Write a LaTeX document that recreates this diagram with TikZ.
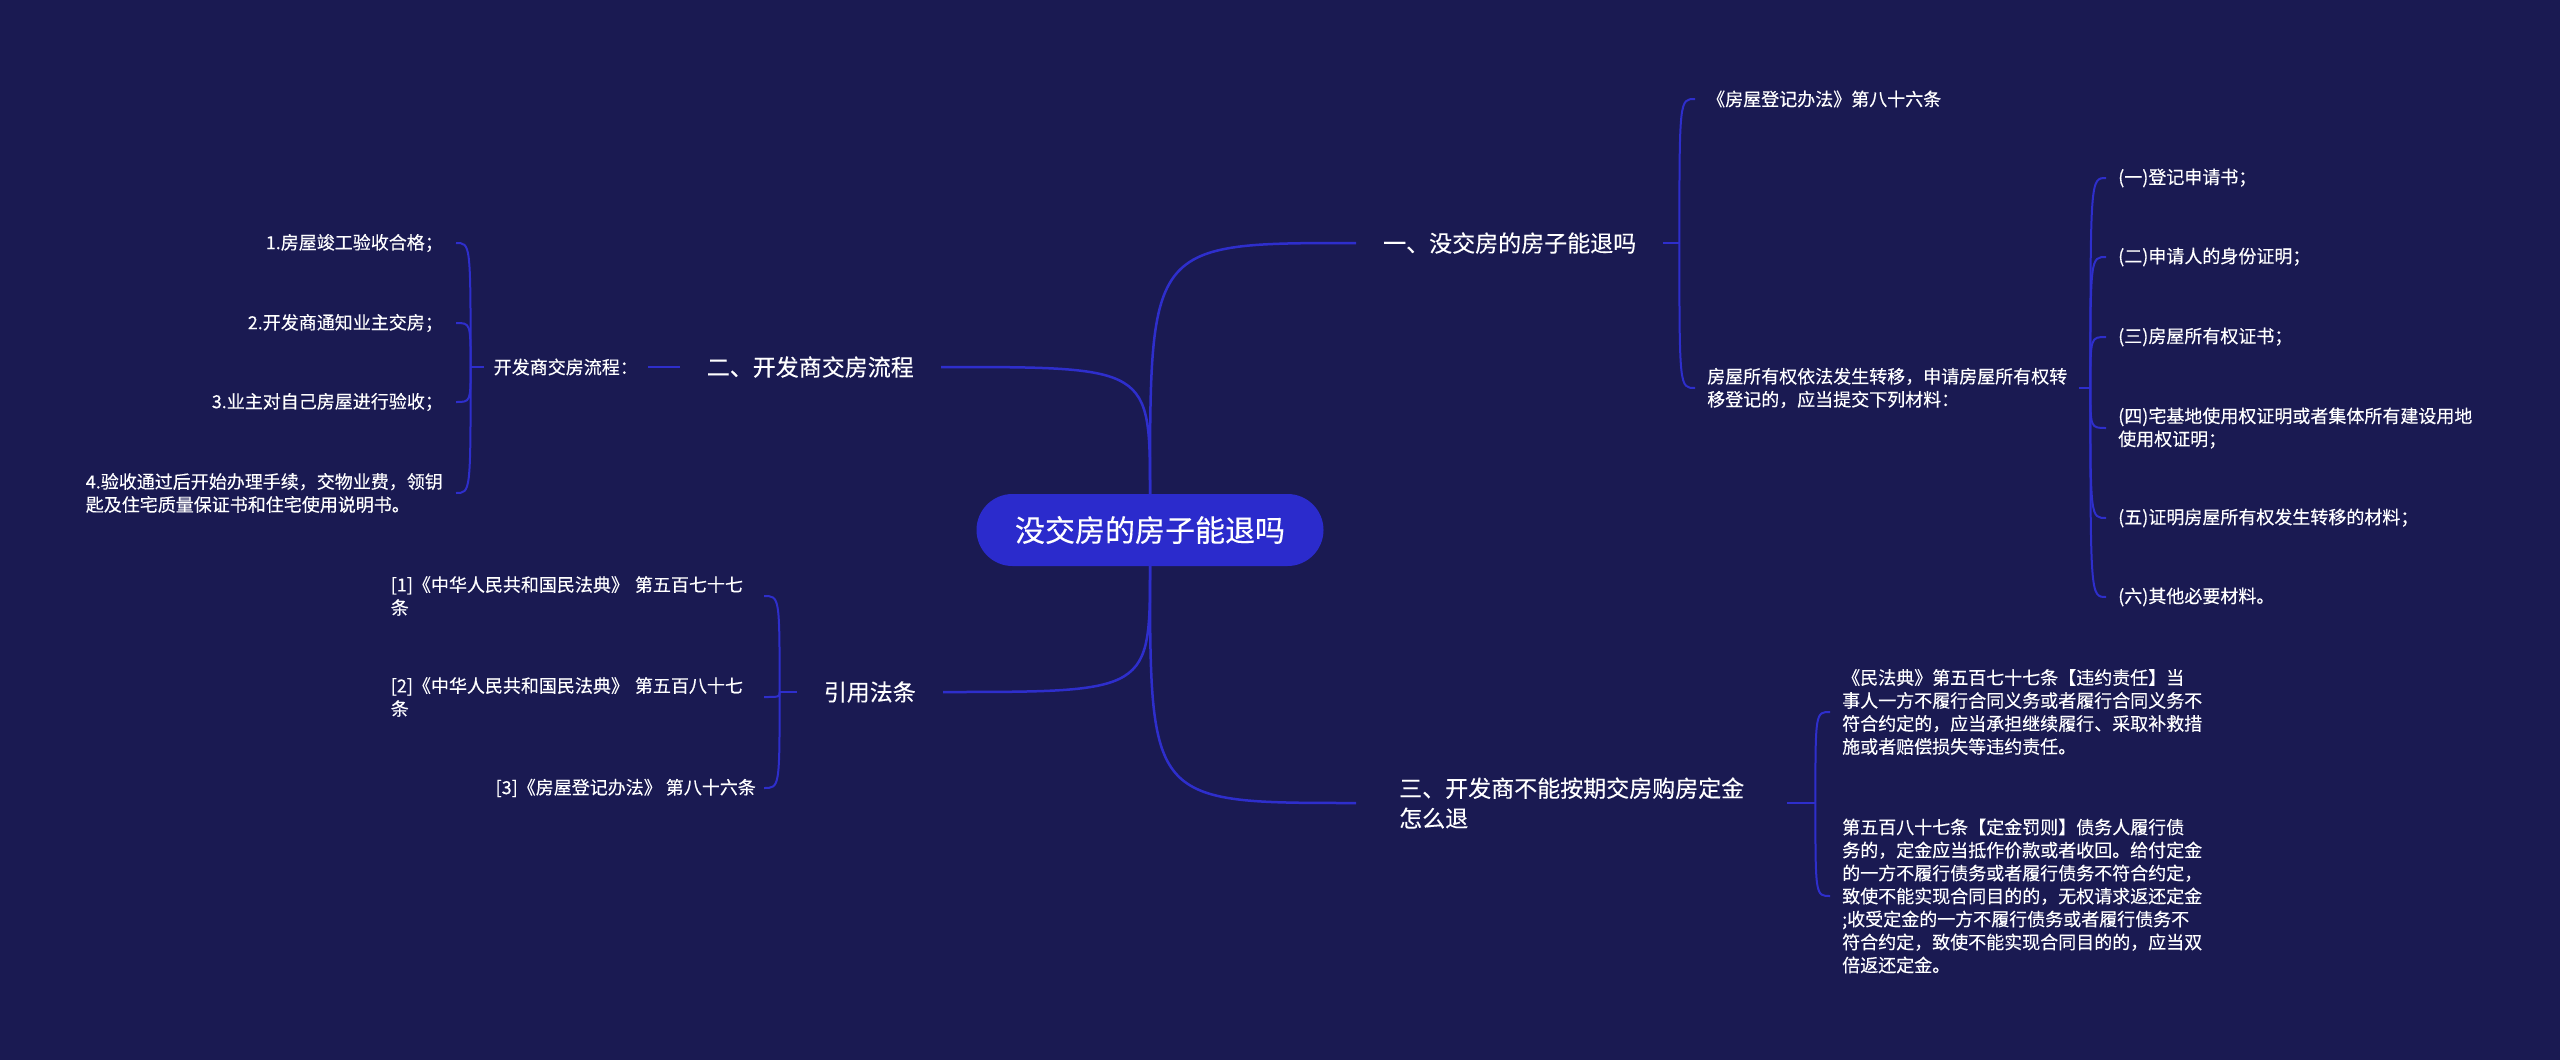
\documentclass[tikz,border=0pt]{standalone}
\usepackage{fontspec}
\setmainfont{Noto Sans CJK SC}[FakeBold=0.25]
\usetikzlibrary{backgrounds}
\definecolor{bg}{HTML}{1A1A52}
\definecolor{rootfill}{HTML}{2B2BCC}
\definecolor{linec}{HTML}{2E2ECC}
\begin{document}
\begin{tikzpicture}[x=1pt,y=-1pt,
  every node/.style={text=white, inner ysep=0pt},
  rootnode/.style={fill=rootfill, rounded corners=36pt, minimum width=347pt, minimum height=72pt, font=\fontsize{30}{36}\selectfont},
  topic/.style={inner xsep=27pt, font=\fontsize{23}{30}\selectfont, align=left},
  leaf/.style={inner xsep=12pt, font=\fontsize{18}{23}\selectfont, align=left},
  branch/.style={draw=linec, line width=2.5pt},
  brace/.style={draw=linec, line width=2pt},
  stub/.style={draw=linec, line width=2pt},
]
\useasboundingbox (0,0) rectangle (2560,1060);

% root and main topics
\node[rootnode] (R) at (1150,530) {没交房的房子能退吗};
\node[topic, anchor=west] (B1) at (1356,243) {一、没交房的房子能退吗};
\node[topic, anchor=east] (B2) at (941,367) {二、开发商交房流程};
\node[topic, anchor=west, inner xsep=43pt] (B3) at (1356,803) {三、开发商不能按期交房购房定金\\怎么退};
\node[topic, anchor=east] (B4) at (943,692) {引用法条};

% branch 1
\node[leaf, anchor=west] (C11) at (1695,99) {《房屋登记办法》第八十六条};
\node[leaf, anchor=west] (C12) at (1695,388) {房屋所有权依法发生转移，申请房屋所有权转\\移登记的，应当提交下列材料：};
\node[leaf, anchor=west] (C21) at (2106,178) {(一)登记申请书；};
\node[leaf, anchor=west] (C22) at (2106,257) {(二)申请人的身份证明；};
\node[leaf, anchor=west] (C23) at (2106,337) {(三)房屋所有权证书；};
\node[leaf, anchor=west] (C24) at (2106,428) {(四)宅基地使用权证明或者集体所有建设用地\\使用权证明；};
\node[leaf, anchor=west] (C25) at (2106,518) {(五)证明房屋所有权发生转移的材料；};
\node[leaf, anchor=west] (C26) at (2106,597) {(六)其他必要材料。};

% branch 3
\node[leaf, anchor=west] (C31) at (1830,712) {《民法典》第五百七十七条【违约责任】当\\事人一方不履行合同义务或者履行合同义务不\\符合约定的，应当承担继续履行、采取补救措\\施或者赔偿损失等违约责任。};
\node[leaf, anchor=west] (C32) at (1830,896) {第五百八十七条【定金罚则】债务人履行债\\务的，定金应当抵作价款或者收回。给付定金\\的一方不履行债务或者履行债务不符合约定，\\致使不能实现合同目的的，无权请求返还定金\\;收受定金的一方不履行债务或者履行债务不\\符合约定，致使不能实现合同目的的，应当双\\倍返还定金。};

% branch 2
\node[leaf, inner xsep=10pt, anchor=east] (M) at (648,367) {开发商交房流程：};
\node[leaf, inner xsep=13pt, anchor=east] (C41) at (456,243) {1.房屋竣工验收合格；};
\node[leaf, inner xsep=13pt, anchor=east] (C42) at (456,323) {2.开发商通知业主交房；};
\node[leaf, inner xsep=13pt, anchor=east] (C43) at (456,402) {3.业主对自己房屋进行验收；};
\node[leaf, inner xsep=13pt, anchor=east] (C44) at (456,493) {4.验收通过后开始办理手续，交物业费，领钥\\匙及住宅质量保证书和住宅使用说明书。};

% branch 4
\node[leaf, inner xsep=8pt, anchor=east, text width=365pt] (C51) at (764,596) {[1]《中华人民共和国民法典》 第五百七十七\\条};
\node[leaf, inner xsep=8pt, anchor=east, text width=365pt] (C52) at (764,697) {[2]《中华人民共和国民法典》 第五百八十七\\条};
\node[leaf, inner xsep=8pt, anchor=east] (C53) at (764,788) {[3]《房屋登记办法》 第八十六条};

\begin{scope}[on background layer]
\fill[bg] (0,0) rectangle (2560,1060);
\draw[branch] (R.north) .. controls (R.north |- B1.west) .. (B1.west);
\draw[branch] (R.north) .. controls (R.north |- B2.east) .. (B2.east);
\draw[branch] (R.south) .. controls (R.south |- B3.west) .. (B3.west);
\draw[branch] (R.south) .. controls (R.south |- B4.east) .. (B4.east);
\end{scope}

% junction stubs
\draw[stub] (B1.east) -- ++(16,0) coordinate (j1);
\draw[stub] (C12.east) -- ++(11,0) coordinate (j2);
\draw[stub] (B3.east) -- ++(28,0) coordinate (j3);
\draw[stub] (B2.west) -- (M.east);
\draw[stub] (M.west) -- ++(-13,0) coordinate (j4);
\draw[stub] (B4.west) -- ++(-17,0) coordinate (j5);

% brackets
\foreach \c in {C11,C12} \draw[brace] (j1) .. controls (j1 |- \c.west) .. (\c.west);
\foreach \c in {C21,C22,C23,C24,C25,C26} \draw[brace] (j2) .. controls (j2 |- \c.west) .. (\c.west);
\foreach \c in {C31,C32} \draw[brace] (j3) .. controls (j3 |- \c.west) .. (\c.west);
\foreach \c in {C41,C42,C43,C44} \draw[brace] (j4) .. controls (j4 |- \c.east) .. (\c.east);
\foreach \c in {C51,C52,C53} \draw[brace] (j5) .. controls (j5 |- \c.east) .. (\c.east);
\end{tikzpicture}
\end{document}
